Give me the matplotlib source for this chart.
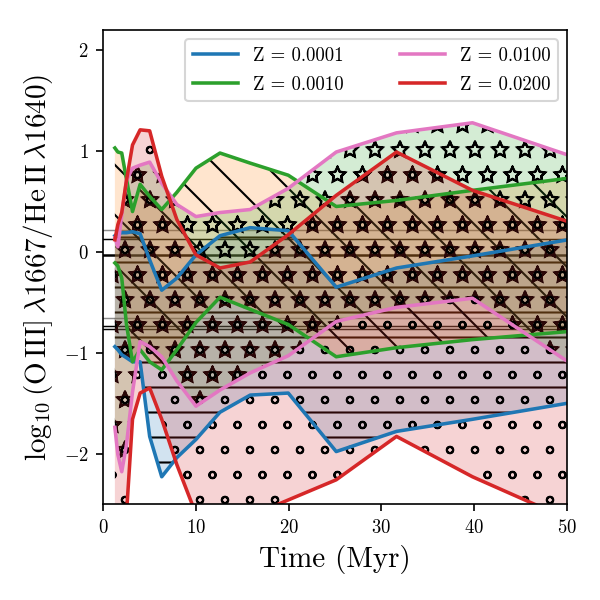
import numpy as np
import matplotlib
matplotlib.use("Agg")
import matplotlib.pyplot as plt
import matplotlib.hatch as mhatch

plt.rcParams['font.family'] = 'serif'
plt.rcParams['font.serif'] = ['cmr10', 'DejaVu Serif']
plt.rcParams['mathtext.fontset'] = 'cm'
plt.rcParams['axes.formatter.use_mathtext'] = True
plt.rcParams['hatch.linewidth'] = 1.0

# hatch shape style closer to the reference rendering
mhatch.Stars.filled = False
mhatch.SmallCircles.size = 0.13

times = [1.26, 1.58, 2.0, 2.51, 3.16, 3.98, 5.01, 6.31, 7.94, 10.0, 12.59,
         15.85, 19.95, 25.12, 31.62, 39.81, 50.12]

labels = ['Z = 0.0001', 'Z = 0.0010', 'Z = 0.0100', 'Z = 0.0200']
line_colors = ['#1f77b4', '#2ca02c', '#e377c2', '#d62728']
fill_colors = ['#1f77b4', '#ff7f0e', '#2ca02c', '#d62728']
hatches = ['-', '\\', '*', 'o']

blue_hi = [0.16, 0.18, 0.19, 0.19, 0.20, 0.18, -0.08, -0.38, -0.26, -0.03, 0.16,
           0.24, 0.21, -0.35, -0.16, -0.04, 0.12]
blue_lo = [-0.94, -0.97, -1.02, -1.05, -1.09, -1.09, -1.83, -2.23, -2.04, -1.86, -1.59,
           -1.42, -1.40, -1.98, -1.78, -1.66, -1.50]
green_hi = [1.03, 0.99, 0.98, 0.72, 0.40, 0.67, 0.55, 0.42, 0.59, 0.83, 0.98,
            0.88, 0.76, 0.45, 0.51, 0.61, 0.73]
green_lo = [-0.11, -0.14, -0.26, -0.72, -1.09, -0.97, -1.09, -1.17, -0.97, -0.70, -0.45,
            -0.57, -0.72, -1.04, -0.95, -0.87, -0.79]
pink_hi = [0.14, 0.05, 0.37, 0.71, 0.83, 0.86, 0.89, 0.68, 0.47, 0.35, 0.39,
           0.42, 0.63, 0.99, 1.18, 1.28, 0.96]
pink_lo = [-1.74, -2.01, -2.18, -1.91, -1.39, -0.89, -0.94, -1.04, -1.28, -1.53, -1.37,
           -1.20, -1.03, -0.69, -0.55, -0.46, -1.09]
red_hi = [0.12, 0.27, 0.39, 0.71, 1.06, 1.21, 1.20, 0.75, 0.32, -0.03, -0.16,
          -0.10, 0.17, 0.56, 0.99, 0.61, 0.30]
red_lo = [-3.0, -3.0, -3.0, -2.6, -1.66, -1.40, -1.35, -1.66, -2.11, -2.60, -2.75,
          -2.62, -2.46, -2.26, -1.83, -2.23, -2.65]

obs_gray = [0.218, -0.653]
obs_black = [0.124, -0.738, -0.762]
obs_thick = [-0.03]

highs = [blue_hi, green_hi, pink_hi, red_hi]
lows = [blue_lo, green_lo, pink_lo, red_lo]

fig = plt.figure(figsize=(4, 4), dpi=150)
ax = fig.add_axes([0.172, 0.16, 0.773, 0.79])

for y in obs_gray:
    ax.axhline(y, color='0.55', lw=0.7, zorder=0.5)
for y in obs_black:
    ax.axhline(y, color='black', lw=0.7, zorder=0.5)
for y in obs_thick:
    ax.axhline(y, color='black', lw=1.2, zorder=0.5)

for hi, lo, fc, h in zip(highs, lows, fill_colors, hatches):
    ax.fill_between(times, lo, hi, facecolor=fc, alpha=0.2, hatch=h,
                    edgecolor='none', linewidth=0)

for hi, lo, lc, lab in zip(highs, lows, line_colors, labels):
    ax.plot(times, hi, color=lc, lw=1.7, label=lab)
    ax.plot(times, lo, color=lc, lw=1.7)

ax.set_xlim(0, 50)
ax.set_ylim(-2.5, 2.2)
ax.set_xticks([0, 10, 20, 30, 40, 50])
ax.set_yticks([-2, -1, 0, 1, 2])
ax.tick_params(direction='out', labelsize=9)
ax.set_xlabel('Time (Myr)', fontsize=14)
ax.set_ylabel(r'$\log_{10}(\mathrm{O\,III]}\,\lambda1667/\mathrm{He\,II}\,\lambda1640)$',
              fontsize=14)
ax.legend(loc='upper right', ncol=2, fontsize=9, handlelength=2.4,
          columnspacing=3.0, labelspacing=0.6)

fig.savefig('out.png', dpi=150)
